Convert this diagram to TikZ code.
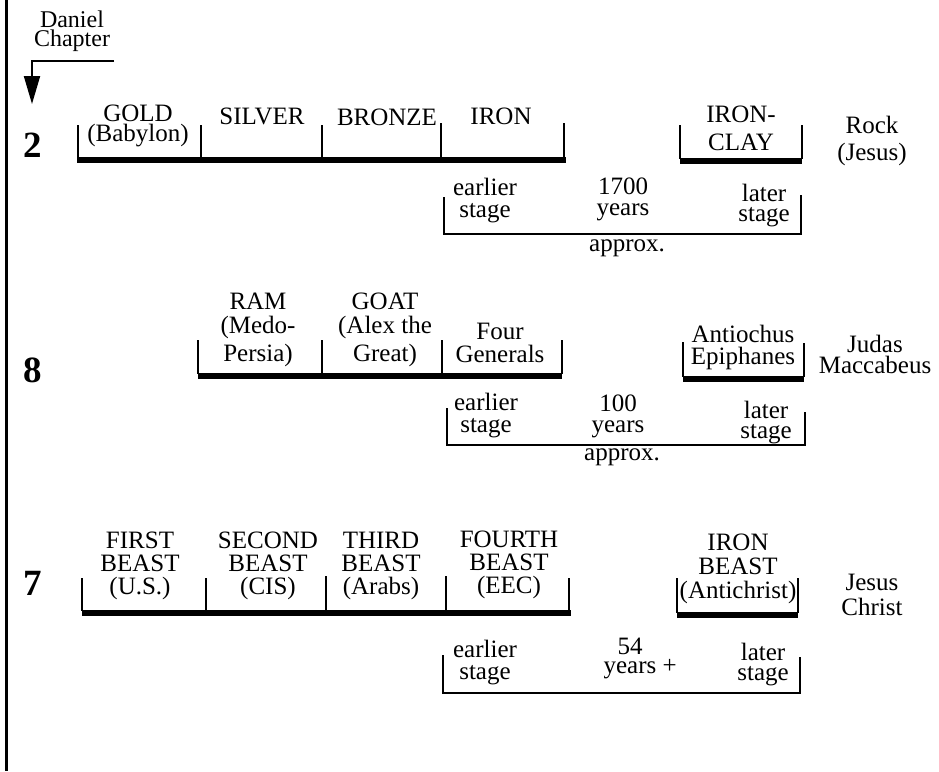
\documentclass[tikz,border=0pt]{standalone}
\usepackage{fontspec}
\setmainfont{Liberation Serif}
\usetikzlibrary{arrows.meta}
\newcommand\tightls{\lineskiplimit-60pt\lineskip0pt\relax}
\newcommand\fsz[1]{\fontsize{25}{#1}\selectfont\tightls}
\newcommand\hdrfont{\fontsize{24}{19}\selectfont\tightls}
\begin{document}
\begin{tikzpicture}[x=1pt,y=-1pt,
  lbl/.style={inner sep=0pt,align=center,anchor=base,font=\fsz{23}},
  num/.style={inner sep=0pt,anchor=center,font=\fontsize{37}{37}\selectfont\bfseries},
  bar/.style={line width=6.5pt},
  tick/.style={line width=1.5pt},
  brk/.style={line width=1.6pt}]
\useasboundingbox (0,0) rectangle (939,771);
% left border
\draw[line width=3pt] (6.5,0) -- (6.5,771);
% header (anchor = baseline of last line)
\node[lbl,font=\hdrfont] (hdr) at (72,46) {Daniel\\Chapter};
\coordinate (hA) at (114,61);
\coordinate (hB) at (32,104);
\draw[line width=2pt,-{Triangle[width=16pt,length=28pt]}] (hA) -| (hB);
% numbers
\node[num] (n2) at (33,145) {2};
\node[num] (n8) at (33,370) {8};
\node[num] (n7) at (33,583) {7};

% ===== Row 2 =====
\draw[bar] (77,160) -- (566,160);
\foreach \x/\t in {78/125,201/125,322/125,441/123,564/123}
  \draw[tick] (\x,\t) -- (\x,158);
\node[lbl,font=\fsz{20}] (gold) at (138,141) {GOLD\\(Babylon)};
\node[lbl] (silver) at (262,124) {SILVER};
\node[lbl] (bronze) at (387,125) {BRONZE};
\node[lbl] (iron) at (501,124) {IRON};
\draw[bar] (680,161) -- (802,161);
\draw[tick] (680,125) -- (680,159);
\draw[tick] (802,125) -- (802,159);
\node[lbl,font=\fsz{28}] (ironclay) at (741,150) {IRON-\\CLAY};
\node[lbl,font=\fsz{27}] (rock) at (872,160) {Rock\\(Jesus)};
\draw[brk] (444,197) -- (444,234) -- (801,234) -- (801,195);
\node[lbl,font=\fsz{22}] (e2) at (485,217) {earlier\\stage};
\node[lbl,font=\fsz{21}] (y2) at (623,215) {1700\\years};
\node[lbl,font=\fsz{20}] (l2) at (764,221) {later\\stage};
\node[lbl] (a2) at (627,251) {approx.};

% ===== Row 8 =====
\draw[bar] (198,376) -- (562,376);
\foreach \x in {198,322,442,562}
  \draw[tick] (\x,340) -- (\x,374);
\node[lbl,font=\fsz{24}] (ram) at (258,361) {RAM\\(Medo-\\[4pt]Persia)};
\node[lbl,font=\fsz{24}] (goat) at (385,361) {GOAT\\(Alex the\\[4pt]Great)};
\node[lbl] (four) at (500,362) {Four\\Generals};
\draw[bar] (683,379) -- (804,379);
\draw[tick] (683,342) -- (683,377);
\draw[tick] (804,343) -- (804,377);
\node[lbl,font=\fsz{22}] (anti) at (743,364) {Antiochus\\Epiphanes};
\node[lbl,font=\fsz{21}] (judas) at (875,373) {Judas\\Maccabeus};
\draw[brk] (447,408) -- (447,445) -- (805,445) -- (805,412);
\node[lbl,font=\fsz{22}] (e8) at (486,432) {earlier\\stage};
\node[lbl,font=\fsz{21}] (y8) at (618,432) {100\\years};
\node[lbl,font=\fsz{20}] (l8) at (766,438) {later\\stage};
\node[lbl] (a8) at (622,460) {approx.};

% ===== Row 7 =====
\draw[bar] (82,613) -- (571,613);
\foreach \x/\t in {82/578,206/578,326/576,446/576,569/578}
  \draw[tick] (\x,\t) -- (\x,611);
\node[lbl] (b1) at (140,594) {FIRST\\BEAST\\(U.S.)};
\node[lbl] (b2) at (268,594) {SECOND\\BEAST\\(CIS)};
\node[lbl] (b3) at (381,594) {THIRD\\BEAST\\(Arabs)};
\node[lbl] (b4) at (509,593) {FOURTH\\BEAST\\(EEC)};
\draw[bar] (677,615) -- (798,615);
\draw[tick] (677,578) -- (677,613);
\draw[tick] (798,578) -- (798,613);
\node[lbl,font=\fsz{24}] (ib) at (738,598) {IRON\\BEAST\\(Antichrist)};
\node[lbl,font=\fsz{25}] (jc) at (872,615) {Jesus\\Christ};
\draw[brk] (443,655) -- (443,693) -- (800,693) -- (800,657);
\node[lbl,font=\fsz{22}] (e7) at (485,679) {earlier\\stage};
\node[lbl,font=\fsz{19}] (y7) at (630,673) {54\\years\rlap{ +}};
\node[lbl,font=\fsz{20}] (l7) at (763,680) {later\\stage};
\end{tikzpicture}
\end{document}
